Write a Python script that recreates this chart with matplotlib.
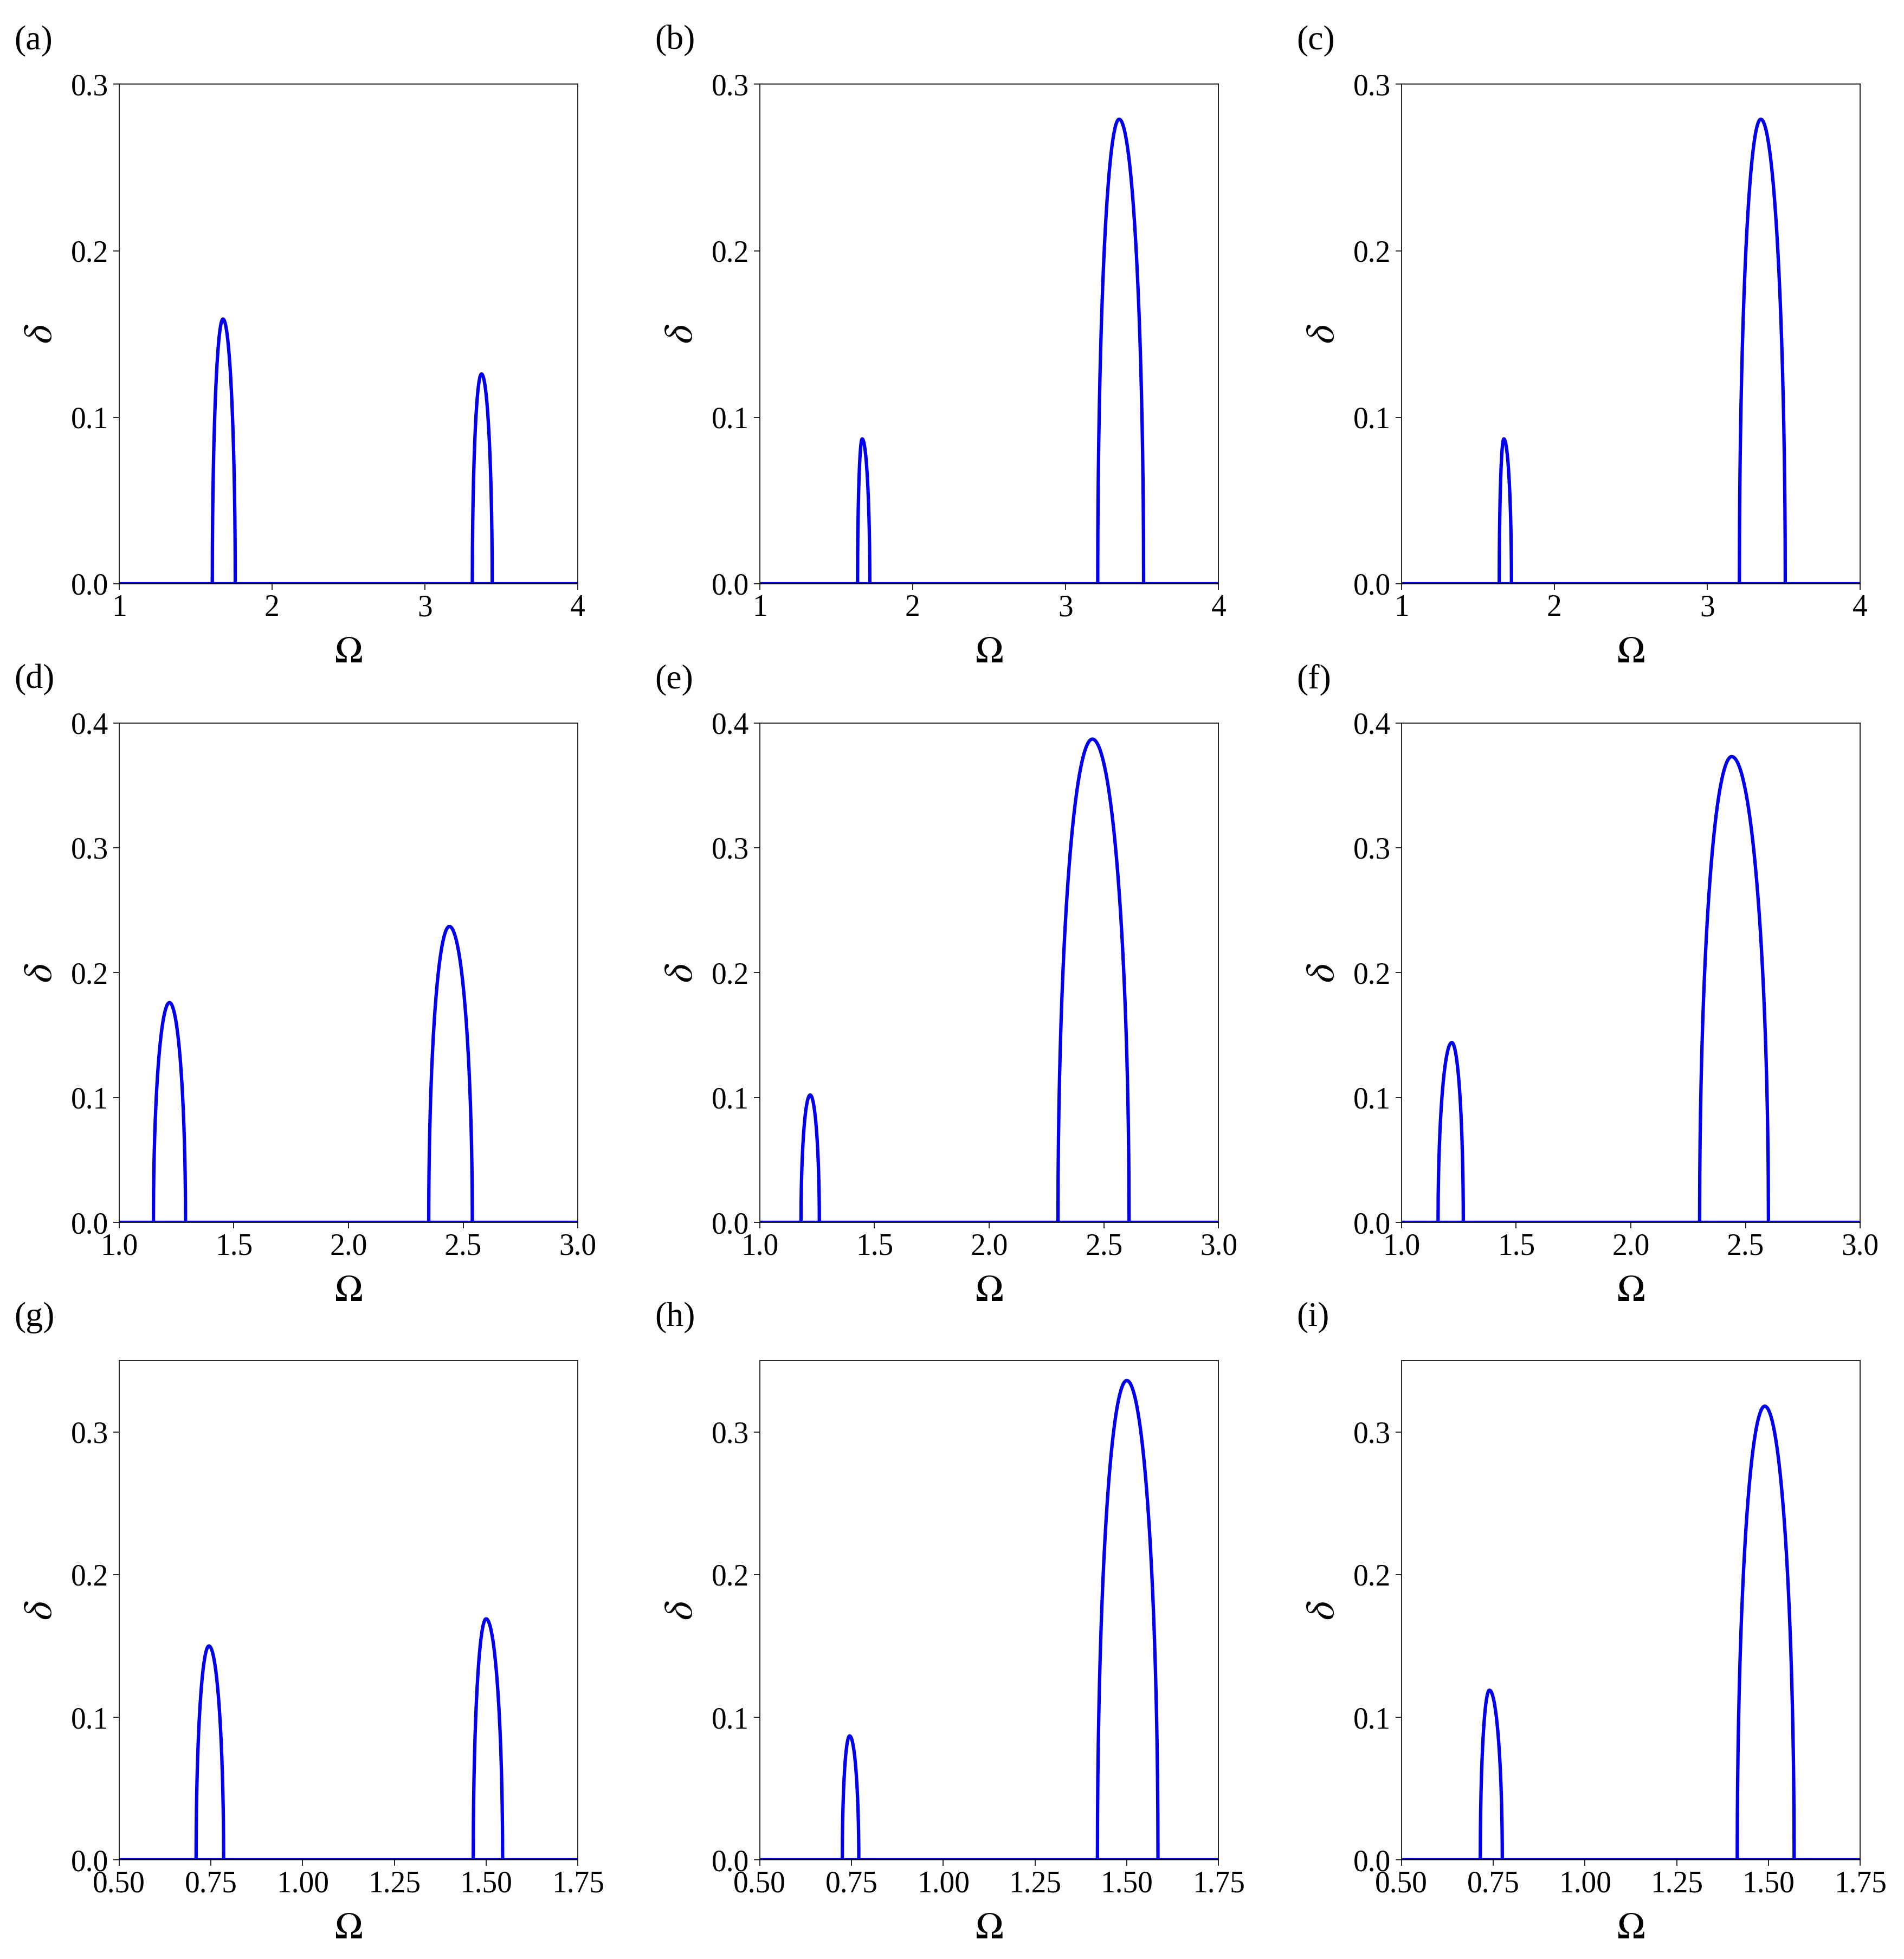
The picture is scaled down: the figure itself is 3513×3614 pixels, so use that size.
import numpy as np
import matplotlib
matplotlib.use("Agg")
import matplotlib.pyplot as plt

plt.rcParams['font.family'] = ['Liberation Serif', 'DejaVu Serif']
plt.rcParams['mathtext.fontset'] = 'stix'

labels = ['(a)', '(b)', '(c)', '(d)', '(e)', '(f)', '(g)', '(h)', '(i)']
xlims = [(1, 4)] * 3 + [(1, 3)] * 3 + [(0.5, 1.75)] * 3
ylims = [(0, 0.3)] * 3 + [(0, 0.4)] * 3 + [(0, 0.35)] * 3
xticks = [[1, 2, 3, 4]] * 3 + [[1.0, 1.5, 2.0, 2.5, 3.0]] * 3 + [[0.5, 0.75, 1.0, 1.25, 1.5, 1.75]] * 3
xfmt = ['%g'] * 3 + ['%.1f'] * 3 + ['%.2f'] * 3
yticks = [[0.0, 0.1, 0.2, 0.3]] * 3 + [[0.0, 0.1, 0.2, 0.3, 0.4]] * 3 + [[0.0, 0.1, 0.2, 0.3]] * 3

# tongues: (left edge, peak position, right edge, peak height)
tongue1 = [(1.61, 1.68, 1.76, 0.159), (1.64, 1.67, 1.72, 0.087), (1.64, 1.67, 1.72, 0.087),
           (1.15, 1.22, 1.29, 0.176), (1.18, 1.22, 1.26, 0.102), (1.16, 1.22, 1.27, 0.144),
           (0.71, 0.745, 0.785, 0.150), (0.725, 0.745, 0.77, 0.087), (0.715, 0.74, 0.775, 0.119)]
tongue2 = [(3.31, 3.37, 3.44, 0.126), (3.21, 3.35, 3.51, 0.279), (3.21, 3.35, 3.51, 0.279),
           (2.35, 2.44, 2.54, 0.237), (2.30, 2.45, 2.61, 0.387), (2.30, 2.44, 2.60, 0.373),
           (1.465, 1.50, 1.545, 0.169), (1.42, 1.50, 1.585, 0.336), (1.415, 1.49, 1.57, 0.318)]

def tongue_curve(l, p, r, h):
    t = np.linspace(-1, 1, 400)
    x = np.where(t < 0, p + t * (p - l), p + t * (r - p))
    y = h * np.sqrt(np.clip(1 - t ** 2, 0, 1))
    return x, y

fig = plt.figure(figsize=(35.13, 36.14), dpi=100)
lefts = [0.0625, 0.399, 0.736]
bottoms = [0.702, 0.376, 0.0505]
w, hgt = 0.241, 0.255
blue = '#0000ee'
for i in range(9):
    r, c = divmod(i, 3)
    ax = fig.add_axes([lefts[c], bottoms[r], w, hgt])
    ax.plot(xlims[i], [0, 0], color=blue, lw=4.5)
    for tg in (tongue1[i], tongue2[i]):
        x, y = tongue_curve(*tg)
        ax.plot(x, y, color=blue, lw=4.5)
    ax.set_xlim(*xlims[i])
    ax.set_ylim(*ylims[i])
    ax.set_xticks(xticks[i])
    ax.set_xticklabels([xfmt[i] % v for v in xticks[i]])
    ax.set_yticks(yticks[i])
    ax.set_yticklabels(['%.1f' % v for v in yticks[i]])
    ax.tick_params(labelsize=40, direction='out', length=8, width=1.2, pad=6)
    for s in ax.spines.values():
        s.set_linewidth(1.2)
    ax.set_xlabel(r'$\Omega$', fontsize=50, labelpad=18)
    ax.set_ylabel(r'$\delta$', fontsize=54, labelpad=14)
    fig.text(lefts[c] - 0.055, bottoms[r] + hgt + 0.022, labels[i], fontsize=46, va='center')

fig.savefig('out.png', dpi=100)
